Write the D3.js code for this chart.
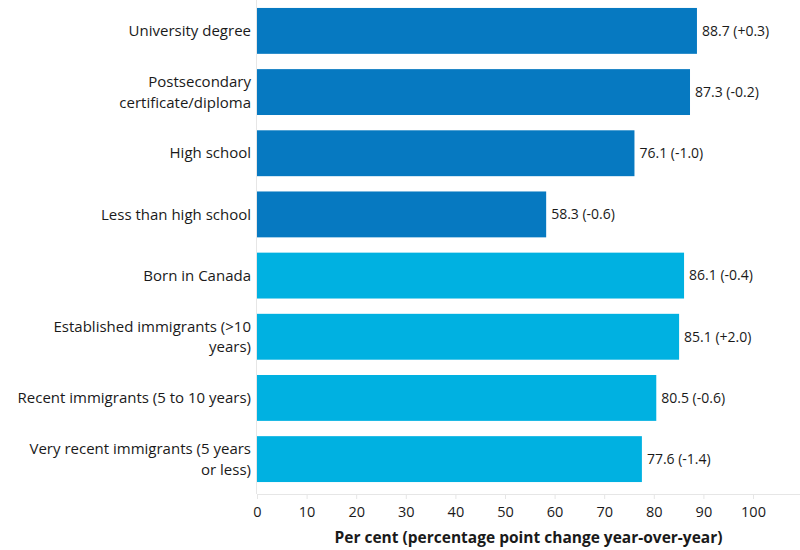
<!DOCTYPE html>
<html lang="en">
<head>
  <meta charset="UTF-8">
  <title>Employment rate by education and immigrant status</title>
  <script src="https://d3js.org/d3.v7.min.js"></script>
  <style>
    body { margin: 0; background: #fff; }
    text { font-family: "Open Sans", Lato, sans-serif; fill: #1a1a1a; }
  </style>
</head>
<body>
  <svg id="chart" width="800" height="550"></svg>

  <script>
    // values
    const categories = [
      "University degree",
      "Postsecondary\ncertificate/diploma",
      "High school",
      "Less than high school",
      "Born in Canada",
      "Established immigrants (>10\nyears)",
      "Recent immigrants (5 to 10 years)",
      "Very recent immigrants (5 years\nor less)"
    ];
    const values = [88.7, 87.3, 76.1, 58.3, 86.1, 85.1, 80.5, 77.6];
    const changes = ["+0.3", "-0.2", "-1.0", "-0.6", "-0.4", "+2.0", "-0.6", "-1.4"];
    const groups = ["education", "education", "education", "education",
                    "immigrant", "immigrant", "immigrant", "immigrant"];
    const xTicks = [0, 10, 20, 30, 40, 50, 60, 70, 80, 90, 100];

    const data = categories.map((c, i) => ({
      label: c, value: values[i], change: changes[i], group: groups[i]
    }));

    const svg = d3.select("#chart");
    const x0 = 257, axisY = 494;

    const x = d3.scaleLinear().domain([0, 100]).range([x0, 753]);
    const y = d3.scaleBand()
      .domain(categories)
      .range([0, 490])
      .paddingInner(0.25)
      .paddingOuter(0.13);
    const color = d3.scaleOrdinal()
      .domain(["education", "immigrant"])
      .range(["#0679c1", "#00b1e1"]);

    // left axis line
    svg.append("line")
      .attr("x1", x0 - 0.5).attr("x2", x0 - 0.5)
      .attr("y1", 0).attr("y2", axisY)
      .attr("stroke", "#e6e6e6").attr("stroke-width", 1);

    // bars
    svg.selectAll(".bar")
      .data(data)
      .join("rect")
      .attr("class", "bar")
      .attr("x", x(0))
      .attr("y", d => y(d.label))
      .attr("width", d => x(d.value) - x(0))
      .attr("height", y.bandwidth())
      .attr("fill", d => color(d.group));

    // value labels
    svg.selectAll(".val")
      .data(data)
      .join("text")
      .attr("class", "val")
      .attr("x", d => x(d.value) + 5)
      .attr("y", d => y(d.label) + y.bandwidth() / 2)
      .attr("dy", "0.35em")
      .style("font-size", "14px")
      .text(d => `${d.value.toFixed(1)} (${d.change})`);

    // category labels, one text per line
    data.forEach(d => {
      const lines = d.label.split("\n");
      const cy = y(d.label) + y.bandwidth() / 2;
      const lh = 20.5;
      svg.selectAll(null)
        .data(lines)
        .join("text")
        .attr("class", "cat")
        .attr("text-anchor", "end")
        .style("font-size", "15px")
        .attr("x", 251)
        .attr("y", (l, i) => cy + (i - (lines.length - 1) / 2) * lh)
        .attr("dy", "0.35em")
        .text(l => l);
    });

    // bottom axis
    const xAxis = d3.axisBottom(x).tickValues(xTicks).tickSize(5).tickPadding(8);
    const gx = svg.append("g")
      .attr("transform", `translate(0,${axisY})`)
      .call(xAxis);
    gx.select(".domain").remove();
    gx.selectAll(".tick line").attr("stroke", "#e6e6e6");
    gx.selectAll(".tick text")
      .style("font-size", "14.5px")
      .style("font-family", "\"Open Sans\", sans-serif")
      .attr("fill", "#1a1a1a");
    gx.append("line")
      .attr("x1", x0).attr("x2", 800)
      .attr("y1", 0.5).attr("y2", 0.5)
      .attr("stroke", "#e6e6e6");

    svg.append("text")
      .attr("x", (x0 + 800) / 2)
      .attr("y", 538)
      .attr("dy", "0.35em")
      .attr("text-anchor", "middle")
      .style("font-size", "15.5px")
      .style("font-weight", "bold")
      .text("Per cent (percentage point change year-over-year)");
  </script>
</body>
</html>
